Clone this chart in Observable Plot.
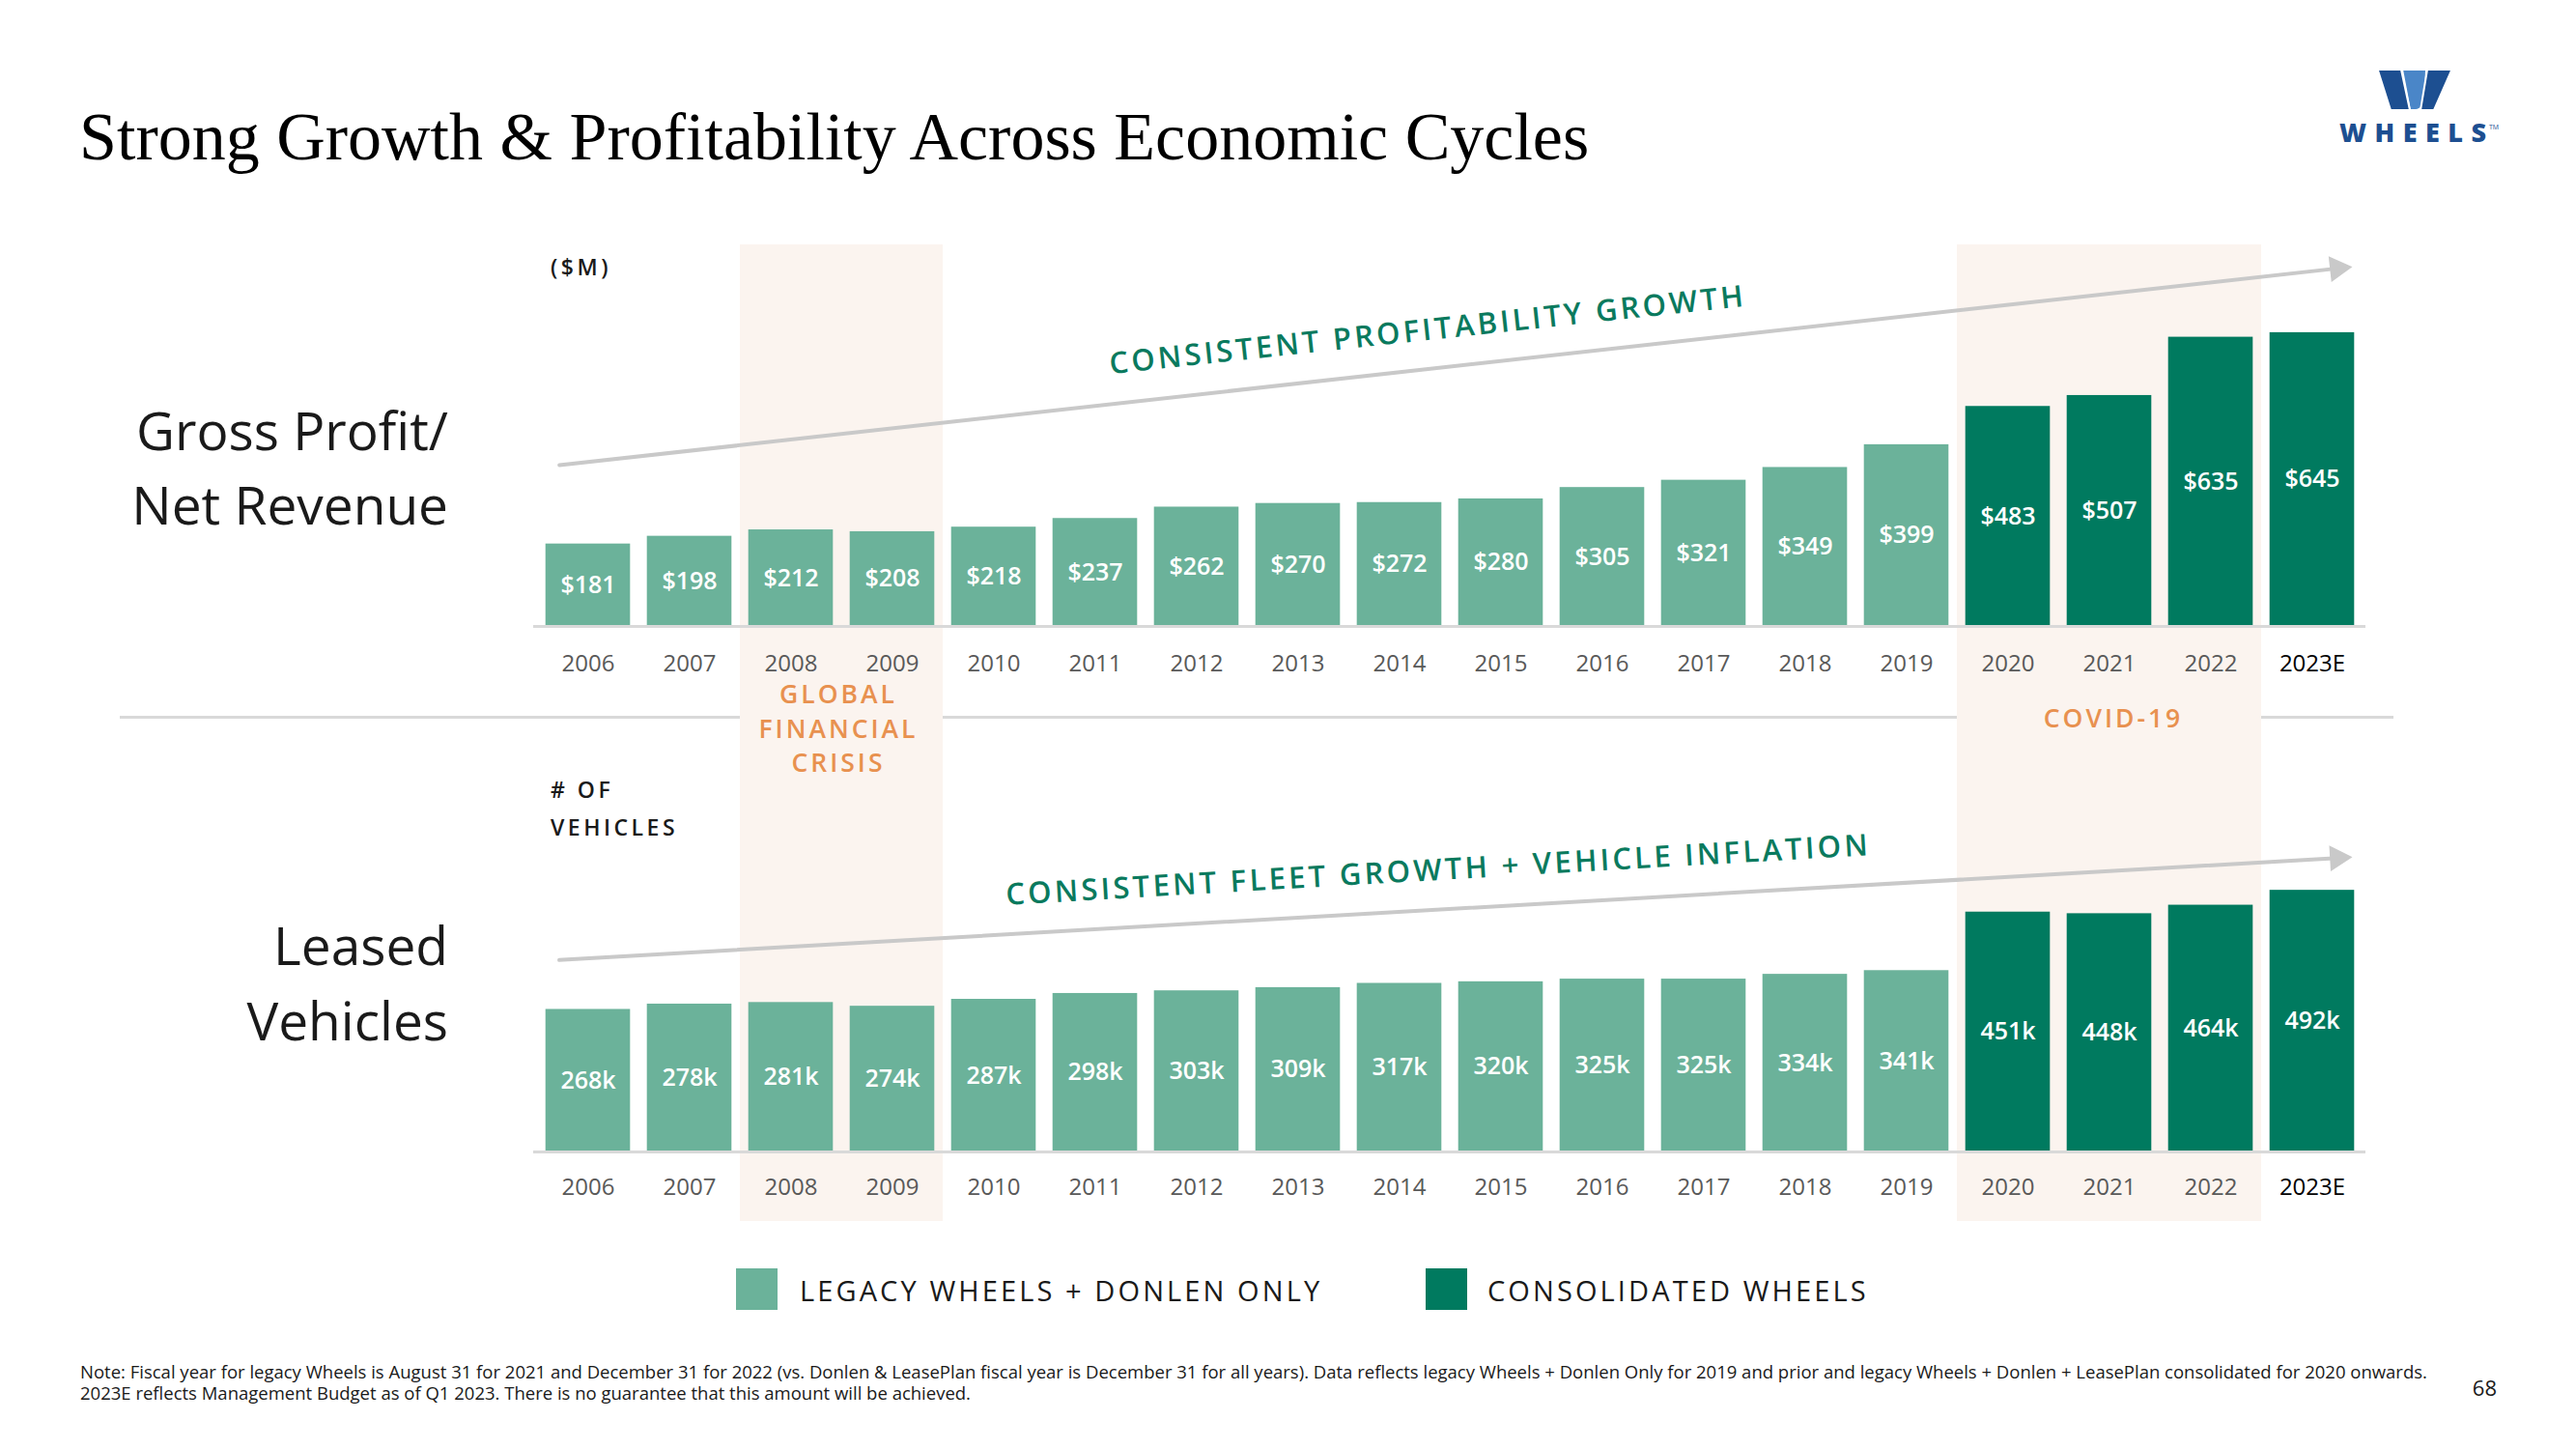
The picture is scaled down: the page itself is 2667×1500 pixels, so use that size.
<!DOCTYPE html>
<html><head><meta charset="utf-8">
<script src="https://cdn.jsdelivr.net/npm/d3@7"></script>
<script src="https://cdn.jsdelivr.net/npm/@observablehq/plot@0.6"></script>
<style>
body{margin:0;background:#fff;}
#page{position:relative;width:2667px;height:1500px;overflow:hidden;font-family:"Open Sans",sans-serif;color:#1a1a1a;}
#page svg.layer{position:absolute;left:0;top:0;}
.t{position:absolute;white-space:nowrap;}
</style></head><body><div id="page"></div>
<script>
// ---------- data ----------
const years = ["2006","2007","2008","2009","2010","2011","2012","2013","2014","2015","2016","2017","2018","2019","2020","2021","2022","2023E"];
const grossProfit = [181,198,212,208,218,237,262,270,272,280,305,321,349,399,483,507,635,645];
const leasedVehicles = [268,278,281,274,287,298,303,309,317,320,325,325,334,341,451,448,464,492];
const segments = ["Legacy","Legacy","Legacy","Legacy","Legacy","Legacy","Legacy","Legacy","Legacy","Legacy","Legacy","Legacy","Legacy","Legacy","Consolidated","Consolidated","Consolidated","Consolidated"];
const shadedYears = ["2008","2009","2020","2021","2022"];
const segmentNames = ["Legacy","Consolidated"];
const legendLabels = ["LEGACY WHEELS + DONLEN ONLY","CONSOLIDATED WHEELS"];
// trend arrows (annotation estimates, in each panel's units)
const profitTrend = [{from:"2006", to:"2023E", start:361, end:780}];
const fleetTrend = [{from:"2006", to:"2023E", start:364, end:550}];

// ---------- styles ----------
const LIGHT = "#6bb29a", DARK = "#007a5f", CREAM = "#fbf4ef", ORANGE = "#e8914f", ARROW = "#c9c9c9", GREEN = "#0a7a5e";
const W = 2667, H = 1500;
const mL = 552, mR = 218;
const page = document.getElementById("page");

function label(txt, x, y, css, ax = 0) {
  const d = document.createElement("div");
  d.className = "t";
  d.textContent = txt;
  d.style.left = x + "px";
  d.style.top = y + "px";
  d.style.transform = `translate(${-ax * 100}%,-50%)` + (css.rot ? ` rotate(${css.rot}deg)` : "");
  delete css.rot;
  Object.assign(d.style, css);
  page.appendChild(d);
  return d;
}

const rows = years.map((y, i) => ({year: y, gp: grossProfit[i], lv: leasedVehicles[i], seg: segments[i]}));
const xScale = {type: "band", domain: years, padding: 0, axis: null};
const colorScale = {domain: segmentNames, range: [LIGHT, DARK]};
const svgStyle = {background: "transparent", fontFamily: "Open Sans", overflow: "visible"};

// divider line
const div = document.createElement("div");
Object.assign(div.style, {position: "absolute", left: "124px", top: "741px", width: "2354px", height: "3px", background: "#d9d9d9"});
page.appendChild(div);

// shaded periods
const bands = Plot.plot({
  width: W, height: H, marginLeft: mL, marginRight: mR, marginTop: 253, marginBottom: 236,
  x: xScale, y: {axis: null}, style: svgStyle,
  marks: [Plot.cell(shadedYears, {x: d => d, fill: CREAM, inset: 0, shapeRendering: "crispEdges"})]
});
bands.classList.add("layer");
page.appendChild(bands);

// crisis labels
const crisisCss = () => ({fontSize: "26.5px", fontWeight: "600", letterSpacing: "3px", color: ORANGE});
label("GLOBAL", 868, 718, crisisCss(), 0.5);
label("FINANCIAL", 868, 754, crisisCss(), 0.5);
label("CRISIS", 868, 789, crisisCss(), 0.5);
label("COVID-19", 2188, 743, crisisCss(), 0.5);

function panel(valueKey, fmt, baseline, pxPerUnit, yearDy, trend, arrowAngle) {
  const mB = H - baseline;
  const p = Plot.plot({
    width: W, height: H, marginLeft: mL, marginRight: mR, marginTop: 0, marginBottom: mB,
    x: xScale, y: {domain: [0, baseline / pxPerUnit], axis: null}, color: colorScale, style: svgStyle,
    marks: [
      Plot.barY(rows, {x: "year", y: valueKey, fill: "seg", insetLeft: 8.7, insetRight: 8.7}),
      Plot.ruleY([0], {stroke: "#d9d9d9", strokeWidth: 3}),
      Plot.text(rows, {x: "year", y: d => d[valueKey] / 2, text: d => fmt(d[valueKey]), fill: "white", fontSize: 25, fontWeight: 600}),
      Plot.text(years, {x: d => d, frameAnchor: "bottom", dy: yearDy, text: d => d, fontSize: 24,
        fill: d => d === "2023E" ? "#000" : "#595959"}),
      Plot.arrow(trend, {x1: "from", y1: "start", x2: "to", y2: "end", stroke: ARROW, strokeWidth: 4,
        headLength: 0, insetStart: -30, insetEnd: -26}),
      Plot.dot(trend, {x: "to", y: "end", symbol: "triangle", r: 10, fill: ARROW, stroke: "none",
        rotate: 90 - arrowAngle, dx: 26, dy: -26 * Math.tan(arrowAngle * Math.PI / 180)})
    ]
  });
  p.classList.add("layer");
  page.appendChild(p);
}
panel("gp", v => "$" + v, 648, 0.4715, 46, profitTrend, 6.3);
panel("lv", v => v + "k", 1192, 0.5505, 44, fleetTrend, 3.3);

// annotations
const annCss = (rot) => ({fontSize: "31px", fontWeight: "600", letterSpacing: "3.3px", color: GREEN, rot});
label("CONSISTENT PROFITABILITY GROWTH", 1478, 340, annCss(-6.1), 0.5);
label("CONSISTENT FLEET GROWTH + VEHICLE INFLATION", 1489, 899, annCss(-3.3), 0.5);

// unit labels
const unitCss = () => ({fontSize: "23px", fontWeight: "600", letterSpacing: "3.5px", color: "#1a1a1a"});
label("($M)", 570, 276, unitCss());
label("# OF", 570, 817, unitCss());
label("VEHICLES", 570, 856, unitCss());

// row titles
const rowCss = () => ({fontSize: "55px", fontWeight: "400", color: "#1a1a1a"});
label("Gross Profit/", 464, 444, rowCss(), 1);
label("Net Revenue", 464, 521, rowCss(), 1);
label("Leased", 464, 977, rowCss(), 1);
label("Vehicles", 464, 1055, rowCss(), 1);

// title
label("Strong Growth & Profitability Across Economic Cycles", 82, 142, {fontFamily: "'Liberation Serif', serif", fontSize: "70px", color: "#000"});

// legend
[[762, LIGHT, 828], [1476, DARK, 1540]].forEach(([x, c, tx], i) => {
  const s = document.createElement("div");
  Object.assign(s.style, {position: "absolute", left: x + "px", top: "1313px", width: "43px", height: "43px", background: c});
  page.appendChild(s);
  label(legendLabels[i], tx, 1335, {fontSize: "29px", letterSpacing: "3.1px", color: "#1a1a1a"});
});

// footnote
const noteCss = () => ({fontSize: "18.5px", color: "#1a1a1a"});
label("Note: Fiscal year for legacy Wheels is August 31 for 2021 and December 31 for 2022 (vs. Donlen & LeasePlan fiscal year is December 31 for all years). Data reflects legacy Wheels + Donlen Only for 2019 and prior and legacy Wheels + Donlen + LeasePlan consolidated for 2020 onwards.", 83, 1419, noteCss());
label("2023E reflects Management Budget as of Q1 2023. There is no guarantee that this amount will be achieved.", 83, 1441, noteCss());
label("68", 2585, 1436, {fontSize: "22px", color: "#1a1a1a"}, 1);

// logo
const logo = document.createElementNS("http://www.w3.org/2000/svg", "svg");
logo.setAttribute("width", 180); logo.setAttribute("height", 100);
logo.style.position = "absolute"; logo.style.left = "2420px"; logo.style.top = "65px";
logo.innerHTML = `
<g stroke="#fff" stroke-width="2">
<path d="M67,7 L92,7 L91,34 Q89,49 81,49 L75,49 Z" fill="#4a86c8"/>
<polygon points="41.7,7 66,7 75,49 55,49" fill="#1d4f91"/>
<polygon points="93,7 118.5,7 100,49 86,49" fill="#1d4f91"/>
</g>
<text x="2" y="82" font-family="Open Sans" font-weight="800" font-size="27" fill="#1d4f91" textLength="152" lengthAdjust="spacing">WHEELS</text>
<text x="157" y="69" font-family="Open Sans" font-size="7" fill="#1d4f91">TM</text>`;
page.appendChild(logo);
</script></body></html>
